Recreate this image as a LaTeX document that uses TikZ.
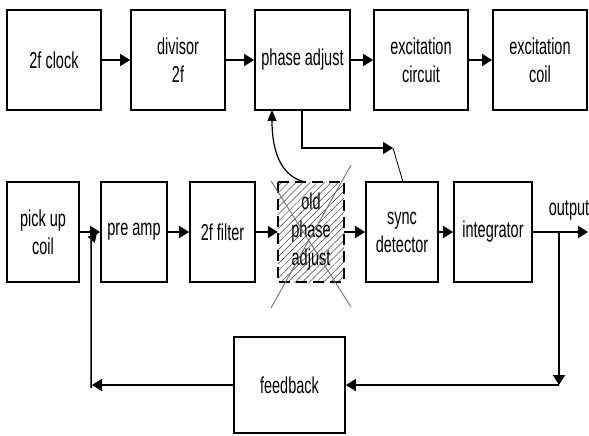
\documentclass[tikz,border=0pt]{standalone}
\usepackage{fontspec}
\setmainfont{Liberation Sans}[FakeStretch=0.63]
\usetikzlibrary{arrows.meta,patterns.meta}
\begin{document}
\begin{tikzpicture}[x=1pt,y=-1pt,
  box/.style={draw, line width=1.8pt, minimum width=#1, minimum height=100pt,
    inner sep=0pt, align=center, font=\fontsize{23}{28}\selectfont, text=black},
  txt/.style={inner sep=0pt, font=\fontsize{23}{28}\selectfont, text=black},
  arr/.style={line width=1.8pt, -{Triangle[length=10pt,width=12pt]}},
  thinarr/.style={line width=1.2pt, -{Triangle[length=11pt,width=9pt]}},
  cross/.style={draw=black!55, line width=0.9pt}]
\useasboundingbox (0,0) rectangle (589,436);
% top row
\node[box=94pt] (clk) at (54,60) {2f clock};
\node[box=94pt] (div) at (178,60) {divisor\\2f};
\node[box=95pt] (pha) at (302.5,60) {phase adjust};
\node[box=94pt] (exc) at (421,60) {excitation\\circuit};
\node[box=94pt] (coil) at (540,60) {excitation\\coil};
% bottom row
\node[box=72pt] (pick) at (43,232) {pick up\\coil};
\node[box=66pt] (pre) at (134,232) {pre amp};
\node[box=65pt] (filt) at (222.5,232) {2f filter};
\node[box=66pt, draw=none, pattern={Lines[angle=45,distance=5pt,line width=0.5pt]}, pattern color=black!75] (old) at (311,232) {old\\phase\\adjust};
\draw[line width=2.4pt, dash pattern=on 11pt off 6pt] (old.north west) rectangle (old.south east);
\node[box=72pt] (sync) at (402,232) {sync\\detector};
\node[box=78pt] (integ) at (493,232) {integrator};
\node[box=111pt, minimum height=96pt] (fb) at (289.5,385) {feedback};
\node[txt] (outl) at (569,210) {output};
% cross over old phase adjust
\coordinate (x1) at (271,181);
\coordinate (x2) at (351,307);
\coordinate (x3) at (351,165);
\coordinate (x4) at (271,308);
\draw[cross] (x1) -- (x2);
\draw[cross] (x3) -- (x4);
% top arrows
\draw[arr] (clk) -- (div);
\draw[arr] (div) -- (pha);
\draw[arr] (pha) -- (exc);
\draw[arr] (exc) -- (coil);
% bottom arrows
\draw[arr] (pick) -- (pre);
\draw[arr] (pre) -- (filt);
\draw[arr] (filt) -- (old);
\draw[arr] (old) -- (sync);
\draw[arr] (sync) -- (integ);
\coordinate (outp) at (588,232);
\draw[arr] (integ) -- (outp);
% feedback loop
\coordinate (tap) at (559,232);
\coordinate (corner) at (559,385);
\draw[arr] (tap) -- (corner);
\draw[arr] (corner) -- (fb.east);
\coordinate (fbl) at (92,385);
\draw[arr] (fb.west) -- (fbl);
\coordinate (fbup) at (91,388);
\coordinate (fbtip) at (97,233);
\draw[line width=1.5pt, -{Triangle[length=9pt,width=9pt]}] (fbup) -- (91,246) .. controls (91,240) .. (fbtip);
% phase adjust links
\coordinate (oldtop) at (305,182);
\coordinate (phin) at (272,110);
\draw[thinarr] (oldtop) .. controls (280,176) and (272,150) .. (phin);
\coordinate (phout) at (302,110);
\coordinate (bend) at (393,148);
\draw[arr] (phout) -- (302,148) -- (bend);
\coordinate (synctop) at (403,182);
\draw[line width=0.8pt] (bend) -- (synctop);
\end{tikzpicture}
\end{document}
